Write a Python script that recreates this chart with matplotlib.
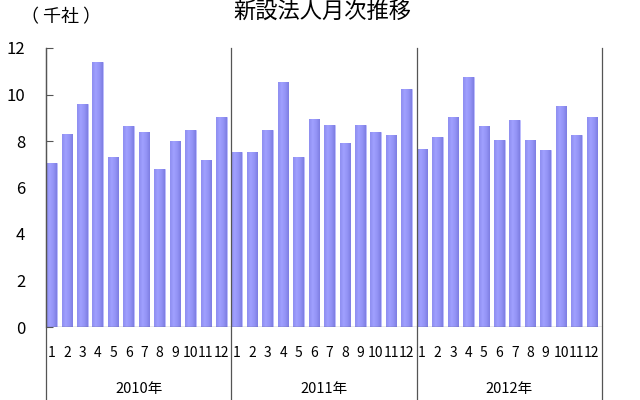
import matplotlib
matplotlib.use("Agg")
import matplotlib.pyplot as plt
import numpy as np
from matplotlib.colors import LinearSegmentedColormap

plt.rcParams['font.family'] = ['Noto Sans CJK JP', 'DejaVu Sans']

years = ["2010年", "2011年", "2012年"]
months = [str(m) for m in range(1, 13)]
values_2010 = [7.04, 8.31, 9.59, 11.40, 7.30, 8.63, 8.37, 6.81, 8.00, 8.47, 7.20, 9.02]
values_2011 = [7.53, 7.53, 8.47, 10.54, 7.30, 8.95, 8.69, 7.93, 8.69, 8.37, 8.24, 10.22]
values_2012 = [7.67, 8.16, 9.02, 10.75, 8.63, 8.06, 8.89, 8.06, 7.61, 9.49, 8.24, 9.02]
yticks = [0, 2, 4, 6, 8, 10, 12]

values = values_2010 + values_2011 + values_2012
x = np.arange(len(values))

fig = plt.figure(figsize=(6.4, 4.0), dpi=100)
ax = fig.add_axes([46/640, 73/400, 556/640, 279/400])

cmap = LinearSegmentedColormap.from_list('barg', ['#8E8EF0', '#A0A0FF', '#9494F6', '#7E7EE2'])
grad = np.linspace(0, 1, 64).reshape(1, -1)
bars = ax.bar(x - 0.15, values, width=0.68, color='#9191F2', edgecolor='#B8B8FF', linewidth=0.5, zorder=2)
for b in bars:
    x0, w, h = b.get_x(), b.get_width(), b.get_height()
    im = ax.imshow(grad, cmap=cmap, aspect='auto', extent=(x0, x0 + w, 0, h), zorder=2.1, interpolation='bilinear')
    im.set_clip_path(b)

ax.set_xlim(-0.5, len(values) - 0.5)
ax.set_ylim(0, 12)
ax.set_yticks(yticks)
ax.set_yticklabels([str(t) for t in yticks], fontsize=12)
ax.tick_params(axis='y', direction='in', length=5, width=0.8, color='#555555', pad=15)
ax.set_xticks([])
for s in ['top', 'right', 'bottom']:
    ax.spines[s].set_visible(False)
ax.spines['left'].set_color('#555555')
ax.spines['left'].set_linewidth(0.9)
ax.axhline(0, color='#555555', linewidth=0.9, zorder=3)

tr = ax.get_xaxis_transform()
bottom = -73/279
for k in range(len(years) + 1):
    xv = 12 * k - 0.5
    ax.plot([xv, xv], [bottom, 1], transform=tr, color='#555555', linewidth=0.9, clip_on=False, zorder=3)

for i in range(len(values)):
    ax.text(x[i] - 0.15, -26/279, months[i % 12], transform=tr, ha='center', va='center', fontsize=10)
for k, y in enumerate(years):
    ax.text(12 * k + 5.5, -62/279, y, transform=tr, ha='center', va='center', fontsize=10.5)

fig.text(322/640, 1 - 12/400, "新設法人月次推移", ha='center', va='center', fontsize=16)
fig.text(61/640, 1 - 17/400, "（ 千社 ）", ha='center', va='center', fontsize=13)

fig.savefig("out.png", dpi=100)
